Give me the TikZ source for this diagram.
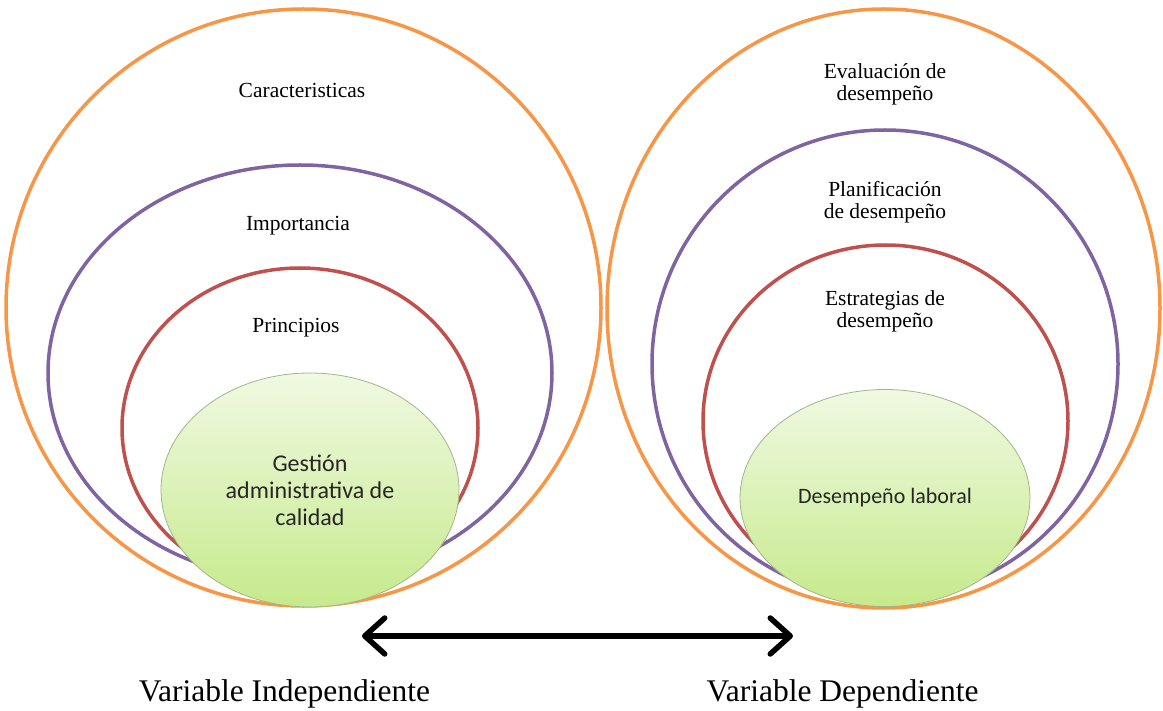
\documentclass[tikz,border=0pt]{standalone}
\usepackage{fontspec}
\setmainfont{Liberation Serif}
\newfontfamily\calib{Carlito}
\usetikzlibrary{shapes.geometric, arrows.meta}

\definecolor{orng}{HTML}{F79646}
\definecolor{purp}{HTML}{8064A2}
\definecolor{redd}{HTML}{C0504D}
\definecolor{coreline}{HTML}{A3B58A}
\definecolor{coretop}{HTML}{F0F9E2}
\definecolor{corebot}{HTML}{C6EA8C}

\begin{document}
\begin{tikzpicture}[x=1pt, y=-1pt]

\tikzset{ring/.style = {shape=ellipse, line width=3.5pt, inner sep=0pt}}
\tikzset{core/.style = {shape=ellipse, draw=coreline, line width=0.8pt, top color=coretop, bottom color=corebot, inner sep=0pt, align=center, text=black!85}}
\tikzset{lbl/.style = {align=center, font=\rmfamily\fontsize{21.5}{22}\selectfont}}
\tikzset{capt/.style = {anchor=base, font=\rmfamily\fontsize{31.5}{36}\selectfont}}
\tikzset{link/.style = {line width=5.5pt, {Straight Barb[round, length=20pt, width=36pt]}-{Straight Barb[round, length=20pt, width=36pt]}}}

\useasboundingbox (0,0) rectangle (1163,711);

% left rings
\node[ring, draw=orng, minimum width=595, minimum height=597] (o1) at (303.5,307.5) {};
\node[ring, draw=purp, minimum width=504, minimum height=416] (p1) at (300,373) {};
\node[ring, draw=redd, minimum width=356, minimum height=320] (r1) at (300,428) {};
\node[core, minimum width=298, minimum height=234, font=\calib\fontsize{24}{27}\selectfont] (g1) at (310,490) {Gestión\\administrativa de\\calidad};

% right rings
\node[ring, draw=orng, minimum width=553, minimum height=599] (o2) at (883.5,308.5) {};
\node[ring, draw=purp, minimum width=466, minimum height=468] (p2) at (885,364) {};
\node[ring, draw=redd, minimum width=365, minimum height=352] (r2) at (885.5,421) {};
\node[core, minimum width=290, minimum height=217, font=\calib\fontsize{22}{25}\selectfont] (g2) at (885,498) {Desempeño laboral};

% labels
\node[lbl] (l1) at (302,90) {Caracteristicas};
\node[lbl] (l2) at (298,226) {Importancia};
\node[lbl] (l3) at (296,328) {Principios};
\node[lbl] (l4) at (885,84) {Evaluación de\\desempeño};
\node[lbl] (l5) at (885,202) {Planificación\\de desempeño};
\node[lbl] (l6) at (885,311) {Estrategias de\\desempeño};

% arrow
\coordinate (a1) at (362,636);
\coordinate (a2) at (793,636);
\draw[link] (a1) -- (a2);

% captions
\node[capt] (c1) at (284.5,701) {Variable Independiente};
\node[capt] (c2) at (842.5,701) {Variable Dependiente};

\end{tikzpicture}
\end{document}
